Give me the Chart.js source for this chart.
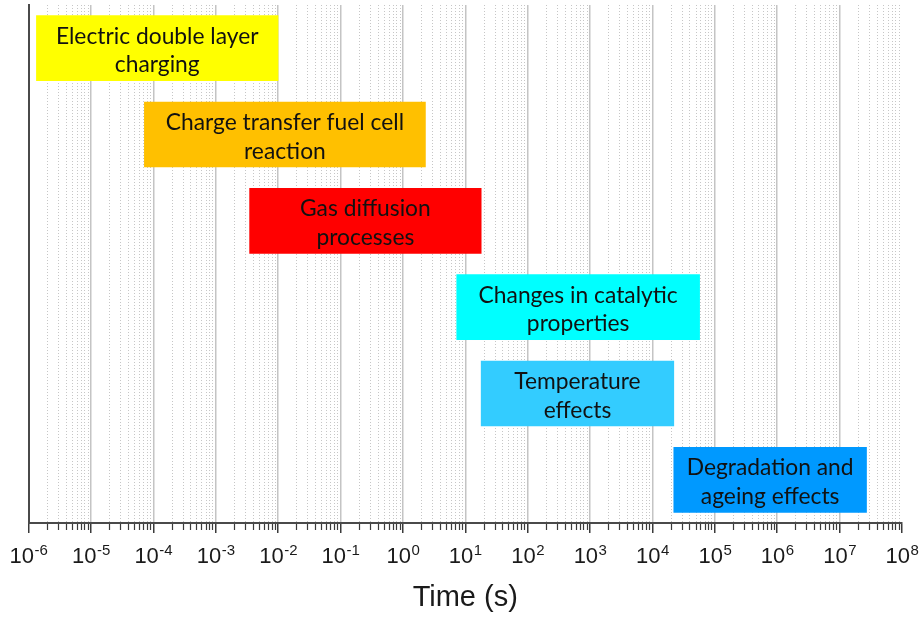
<!DOCTYPE html>
<html>
<head>
<meta charset="utf-8">
<title>Time scales of fuel cell processes</title>
<script src="https://cdn.jsdelivr.net/npm/chart.js@4/dist/chart.umd.min.js"></script>
<style>
  html, body { margin: 0; padding: 0; background: #ffffff; }
  #wrap { width: 921px; height: 617px; }
</style>
</head>
<body>
<div id="wrap"><canvas id="chart" width="921" height="617"></canvas></div>
<script>
// Processes, each written as the two lines shown inside its bar
const processLines = [
  ['Electric double layer', 'charging'],
  ['Charge transfer fuel cell', 'reaction'],
  ['Gas diffusion', 'processes'],
  ['Changes in catalytic', 'properties'],
  ['Temperature', 'effects'],
  ['Degradation and', 'ageing effects']
];
// Time span of each process, in seconds
const startTimes = [1.34e-6, 7.2e-5, 3.5e-3, 7.3, 18, 2.2e4];
const endTimes   = [1.0e-2, 2.3, 18, 5.7e4, 2.2e4, 2.7e7];
// Decade exponents labelled on the time axis
const tickExponents = [-6, -5, -4, -3, -2, -1, 0, 1, 2, 3, 4, 5, 6, 7, 8];
// Minor tick multipliers within each decade
const minorSteps = [2, 3, 4, 5, 6, 7, 8, 9];

const barColors = ['#FFFF00', '#FFC000', '#FF0000', '#00FFFF', '#33CCFF', '#0099FF'];

const categories = processLines.map(l => l.join(' '));
const spans = startTimes.map((s, i) => [s, endTimes[i]]);

const isDecade = v => Math.abs(Math.log10(v) - Math.round(Math.log10(v))) < 1e-9;

// Writes "10" with a raised exponent under each decade tick
const decadeLabels = {
  id: 'decadeLabels',
  afterDraw(chart) {
    const sx = chart.scales.x;
    const ctx = chart.ctx;
    const baseFont = '22px "Liberation Sans", Arial, sans-serif';
    const expFont = '15px "Liberation Sans", Arial, sans-serif';
    const baseY = sx.top + 40;
    ctx.save();
    ctx.fillStyle = '#1a1a1a';
    ctx.textBaseline = 'alphabetic';
    ctx.textAlign = 'left';
    tickExponents.forEach(e => {
      const cx = sx.getPixelForValue(Math.pow(10, e));
      const expText = String(e);
      ctx.font = baseFont;
      const w1 = ctx.measureText('10').width;
      ctx.font = expFont;
      const w2 = ctx.measureText(expText).width;
      const x0 = cx - (w1 + w2) / 2;
      ctx.font = baseFont;
      ctx.fillText('10', x0, baseY);
      ctx.font = expFont;
      ctx.fillText(expText, x0 + w1 + 0.5, baseY - 8.5);
    });
    ctx.restore();
  }
};

// Writes each process name centred in its bar
const barText = {
  id: 'barText',
  afterDatasetsDraw(chart) {
    const meta = chart.getDatasetMeta(0);
    const ctx = chart.ctx;
    ctx.save();
    ctx.font = '22.8px Lato, "Open Sans", sans-serif';
    ctx.fillStyle = '#111111';
    ctx.textAlign = 'center';
    ctx.textBaseline = 'alphabetic';
    meta.data.forEach((bar, i) => {
      const p = bar.getProps(['x', 'y', 'base'], true);
      const cx = (p.x + p.base) / 2;
      const lines = processLines[i];
      ctx.fillText(lines[0], cx, p.y - 4.5);
      ctx.fillText(lines[1], cx, p.y + 24);
    });
    ctx.restore();
  }
};

new Chart(document.getElementById('chart'), {
  type: 'bar',
  data: {
    labels: categories,
    datasets: [{
      data: spans,
      backgroundColor: barColors,
      borderWidth: 0,
      barThickness: 65
    }]
  },
  options: {
    indexAxis: 'y',
    responsive: false,
    animation: false,
    devicePixelRatio: 1,
    layout: { padding: { top: 5, right: 19, bottom: 0, left: 0 } },
    plugins: {
      legend: { display: false },
      tooltip: { enabled: false }
    },
    scales: {
      x: {
        type: 'logarithmic',
        position: 'bottom',
        min: Math.pow(10, tickExponents[0]),
        max: Math.pow(10, tickExponents[tickExponents.length - 1]),
        afterBuildTicks(scale) {
          const ticks = [];
          tickExponents.forEach((e, i) => {
            ticks.push({ value: Math.pow(10, e), major: true });
            if (i < tickExponents.length - 1) {
              minorSteps.forEach(m => ticks.push({ value: m * Math.pow(10, e), major: false }));
            }
          });
          scale.ticks = ticks;
        },
        afterFit(scale) { scale.height = 94; },
        ticks: { display: false, autoSkip: false },
        grid: {
          drawOnChartArea: true,
          drawTicks: true,
          tickLength: 10,
          color: c => {
            const v = c.tick.value;
            if (v >= 1e8) return 'rgba(0,0,0,0)';
            return isDecade(v) ? '#c4c4c4' : '#c6c6c6';
          },
          lineWidth: c => isDecade(c.tick.value) ? 1.5 : 1,
          tickColor: '#3a3a3a',
          tickWidth: c => isDecade(c.tick.value) ? 1.5 : 1.2,
          tickBorderDash: c => isDecade(c.tick.value) ? [] : [6, 30]
        },
        border: {
          display: true,
          color: '#4a4a4a',
          width: 2,
          dash: c => (c.tick && !isDecade(c.tick.value)) ? [1, 2] : []
        },
        title: {
          display: true,
          text: 'Time (s)',
          color: '#1a1a1a',
          font: { family: '"Liberation Sans", Arial, sans-serif', size: 29 },
          padding: { top: 0, bottom: 2 }
        }
      },
      y: {
        type: 'category',
        afterFit(scale) { scale.width = 28.5; },
        ticks: { display: false },
        grid: { display: false, drawTicks: false },
        border: { display: true, color: '#4a4a4a', width: 2 }
      }
    }
  },
  plugins: [barText, decadeLabels]
});
</script>
</body>
</html>
